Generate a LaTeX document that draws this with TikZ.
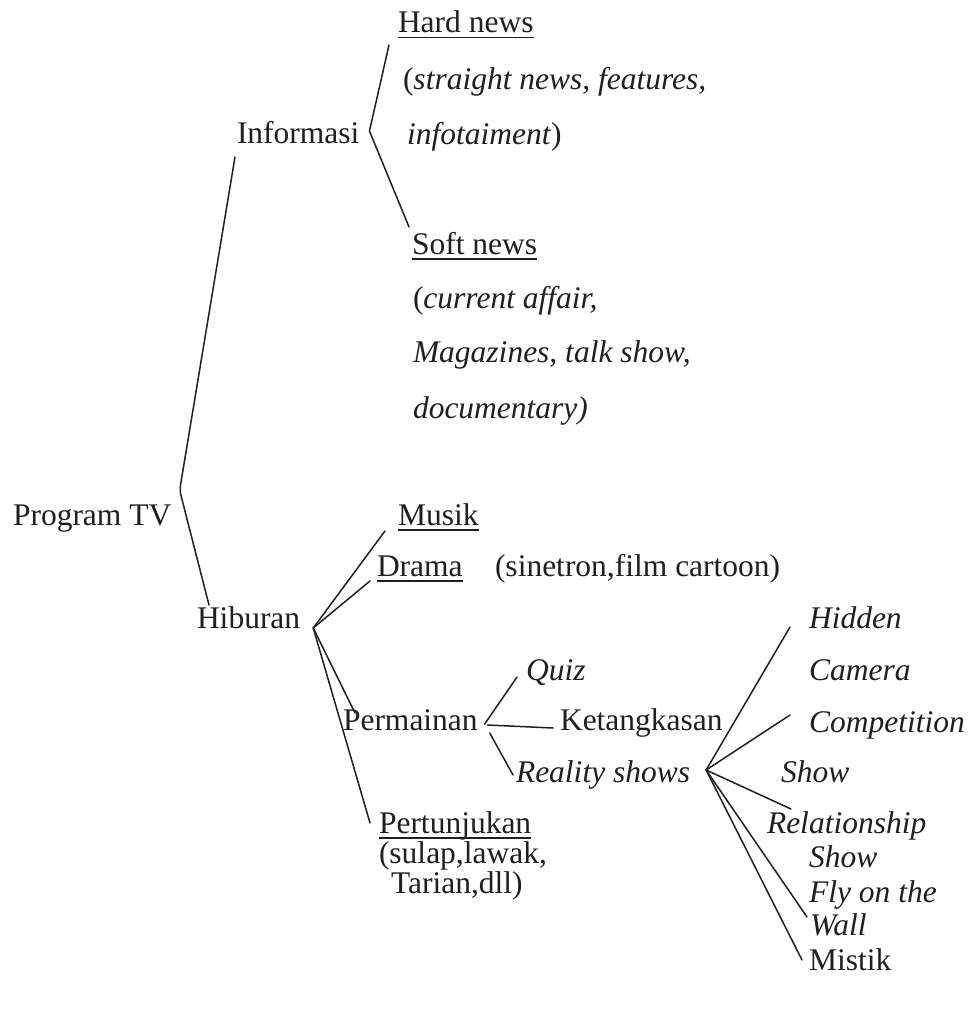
\documentclass[tikz,border=0pt]{standalone}
\usepackage{fontspec}
\setmainfont{Liberation Serif}
\usetikzlibrary{calc}
\newcommand\myul[1]{\setbox0\hbox{#1}\rlap{\rule[-5.5pt]{\wd0}{1.6pt}}\box0}
\tikzset{
  t/.style={inner sep=0pt, outer sep=0pt, anchor=base west, text=black!88, font=\fontsize{31.5}{36}\selectfont},
  conn/.style={draw=black!88, line width=1.5pt, line join=round, line cap=round}
}
\begin{document}
\begin{tikzpicture}[x=1pt, y=-1pt]
\useasboundingbox[fill=white] (0,0) rectangle (971,1011);
% nodes
\node[t] (prog) at (13,525) {Program TV};
\node[t] (inf) at (237,144) {Informasi};
\node[t] (hard) at (398,33) {\myul{Hard news}};
\node[t] (hard1) at (403,90) {(\textit{straight news, features,}};
\node[t] (hard2) at (407,145) {\textit{infotaiment})};
\node[t] (soft) at (412,254) {\myul{Soft news}};
\node[t] (soft1) at (413,308) {(\textit{current affair,}};
\node[t] (soft2) at (413,362) {\textit{Magazines, talk show,}};
\node[t] (soft3) at (413,418) {\textit{documentary)}};
\node[t] (hib) at (197,628) {Hiburan};
\node[t] (musik) at (398,525) {\myul{Musik}};
\node[t] (drama) at (377,576) {\myul{Drama}};
\node[t] (dramax) at (495,576) {(sinetron,film cartoon)};
\node[t] (perm) at (343,730) {Permainan};
\node[t] (quiz) at (526,680) {\textit{Quiz}};
\node[t] (ket) at (560,730) {Ketangkasan};
\node[t] (real) at (516,782) {\textit{Reality shows}};
\node[t] (pert) at (379,833) {\myul{Pertunjukan}};
\node[t] (pert1) at (379,863) {(sulap,lawak,};
\node[t] (pert2) at (391,893) {Tarian,dll)};
\node[t] (hidden) at (809,628) {\textit{Hidden}};
\node[t] (camera) at (809,680) {\textit{Camera}};
\node[t] (comp) at (809,732) {\textit{Competition}};
\node[t] (compshow) at (781,782) {\textit{Show}};
\node[t] (rel) at (767,833) {\textit{Relationship}};
\node[t] (relshow) at (809,867) {\textit{Show}};
\node[t] (fly) at (809,902) {\textit{Fly on the}};
\node[t] (wall) at (810,935) {\textit{Wall}};
\node[t] (mistik) at (809,970) {Mistik};
% junctions
\coordinate (jprog) at ($(prog.base east)+(9,-36)$);
\coordinate (jinf) at ($(inf.base east)+(10,-13)$);
\coordinate (jhib) at ($(hib.base east)+(13,0)$);
\coordinate (jperm) at ($(perm.base east)+(7,-6)$);
\coordinate (jreal) at ($(real.base east)+(16,-12)$);
% connectors
\draw[conn] ($(inf.base west)+(-2,13)$) -- ($(jprog)+(0,-3)$) -- ($(jprog)+(0,4)$) -- ($(hib.base west)+(12,-23)$);
\draw[conn] ($(hard.base west)+(-9,12)$) -- (jinf) -- ($(soft.base west)+(-3,-27)$);
\draw[conn] (jhib) -- ($(musik.base west)+(-13,6)$);
\draw[conn] (jhib) -- ($(drama.base west)+(-7,5)$);
\draw[conn] (jhib) -- ($(perm.base west)+(12,-17)$);
\draw[conn] (jhib) -- ($(pert.base west)+(-9,-10)$);
\draw[conn] (jperm) -- ($(quiz.base west)+(-9,-3)$);
\draw[conn] ($(jperm)+(3,1)$) -- ($(ket.base west)+(-7,-2)$);
\draw[conn] ($(jperm)+(5,9)$) -- ($(real.base west)+(-3,-7)$);
\draw[conn] (jreal) -- ($(hidden.base west)+(-19,-1)$);
\draw[conn] (jreal) -- ($(comp.base west)+(-19,-17)$);
\draw[conn] (jreal) -- ($(rel.base west)+(24,-24)$);
\draw[conn] (jreal) -- ($(wall.base west)+(-3,-18)$);
\draw[conn] (jreal) -- ($(mistik.base west)+(-7,-10)$);
\end{tikzpicture}
\end{document}
